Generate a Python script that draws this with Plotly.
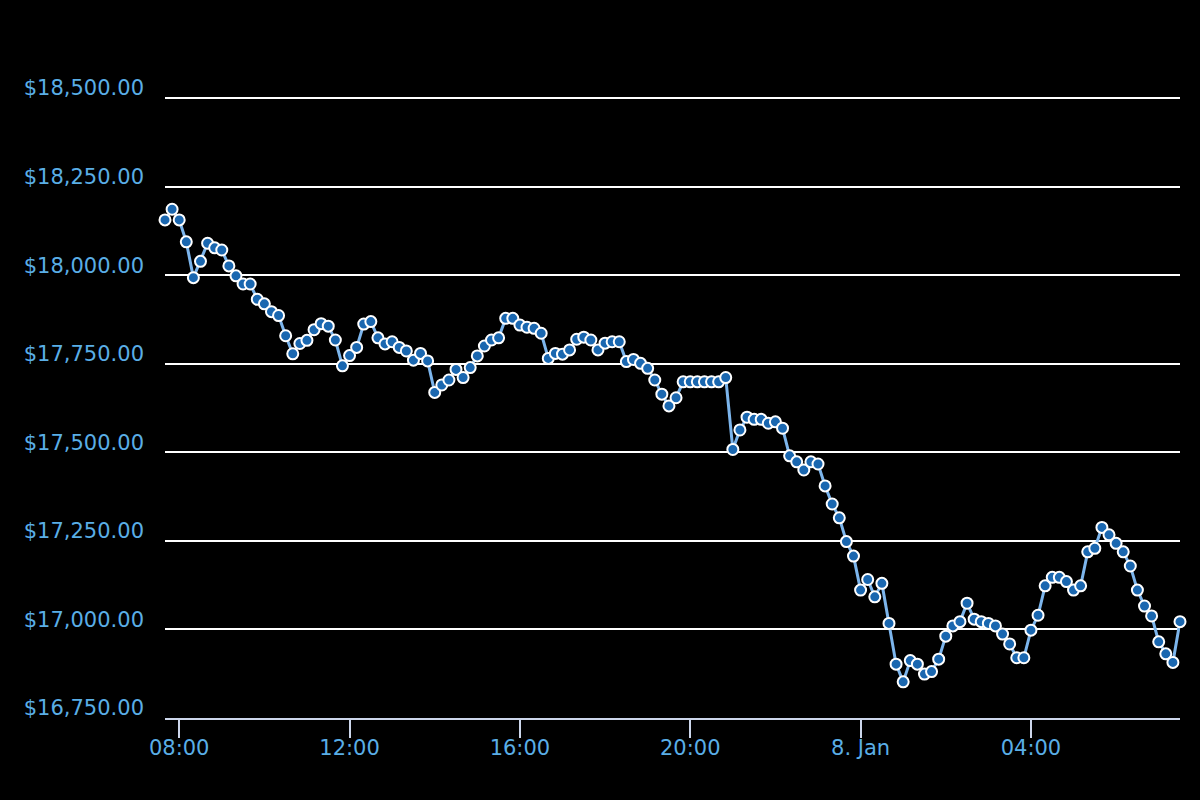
import plotly.graph_objects as go
import pandas as pd

start_time = "2023-01-07 07:40"
interval = "10min"

prices = [
    18156, 18186, 18156, 18094, 17993, 18039, 18090, 18077, 18071, 18026,
    17998, 17975, 17975, 17932, 17919, 17897, 17886, 17829, 17778, 17807,
    17816, 17846, 17863, 17856, 17817, 17744, 17773, 17796, 17862, 17869,
    17823, 17806, 17812, 17796, 17786, 17760, 17779, 17758, 17669, 17690,
    17704, 17734, 17711, 17739, 17772, 17800, 17817, 17823, 17878, 17878,
    17859, 17853, 17850, 17836, 17765, 17779, 17777, 17789, 17819, 17825,
    17817, 17789, 17808, 17812, 17812, 17756, 17762, 17751, 17737, 17704,
    17664, 17631, 17654, 17699, 17699, 17699, 17699, 17699, 17699, 17711,
    17508, 17563, 17599, 17593, 17593, 17582, 17586, 17568, 17490, 17473,
    17450, 17473, 17467, 17405, 17354, 17315, 17248, 17207, 17111, 17141,
    17092, 17130, 17017, 16902, 16852, 16912, 16902, 16874, 16881, 16916,
    16981, 17010, 17022, 17074, 17029, 17022, 17017, 17010, 16987, 16959,
    16920, 16920, 16998, 17040, 17123, 17147, 17147, 17135, 17111, 17123,
    17219, 17229, 17288, 17267, 17243, 17219, 17179, 17111, 17066, 17038,
    16965, 16931, 16907, 17022,
]

times = pd.date_range(start=start_time, periods=len(prices), freq=interval)

x_tick_vals = ["2023-01-07 08:00", "2023-01-07 12:00", "2023-01-07 16:00",
               "2023-01-07 20:00", "2023-01-08 00:00", "2023-01-08 04:00"]
x_tick_text = ["08:00", "12:00", "16:00", "20:00", "8. Jan", "04:00"]

y_tick_vals = [16750, 17000, 17250, 17500, 17750, 18000, 18250, 18500]

label_color = "#5aaee6"
font_family = "DejaVu Sans"

fig = go.Figure()
fig.add_trace(go.Scatter(
    x=times, y=prices, mode="lines+markers",
    line=dict(color="#7cb5ec", width=3),
    marker=dict(size=11, color="#1a67b0", line=dict(color="white", width=2)),
    cliponaxis=False,
    showlegend=False,
))

fig.update_layout(
    width=1200, height=800,
    paper_bgcolor="black", plot_bgcolor="black",
    margin=dict(l=165, r=20, t=94, b=82),
    font=dict(family=font_family, size=21, color=label_color),
    xaxis=dict(
        range=[times[0], times[-1]],
        tickvals=x_tick_vals, ticktext=x_tick_text,
        showgrid=False, zeroline=False,
        showline=True, linecolor="#ccd6eb", linewidth=2,
        ticks="outside", ticklen=18, tickcolor="#ccd6eb", tickwidth=2,
        tickfont=dict(family=font_family, size=21, color=label_color),
        ticklabelstandoff=-8,
    ),
    yaxis=dict(
        range=[16750, 18511.3],
        tickvals=y_tick_vals, tickformat="$,.2f",
        showgrid=True, gridcolor="white", gridwidth=1.5,
        zeroline=False, showline=False, ticks="",
        tickfont=dict(family=font_family, size=21, color=label_color),
        ticklabelstandoff=20, ticklabelshift=-10,
    ),
)

fig.write_html(
    "out.html",
    config={"displayModeBar": False},
    post_script="document.body.style.margin='0';document.body.style.background='black';",
)
